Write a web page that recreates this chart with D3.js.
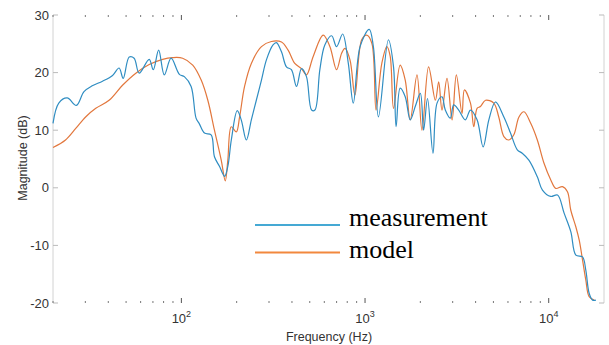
<!DOCTYPE html>
<html><head><meta charset="utf-8">
<script src="https://cdn.jsdelivr.net/npm/d3@7/dist/d3.min.js"></script>
<style>body{margin:0;background:#fff}svg{display:block}</style>
</head><body>
<svg id="c" width="609" height="345"></svg>
<script>
const measFreq=[20,21.5,23.9,26.8,29.5,32.7,37.2,42.2,45.8,48.2,52,55.3,58.9,66.8,70.3,75.2,80.7,87.9,97.5,103.8,113,120.2,125.3,133.6,145.2,151.4,161.4,171.8,179,187,201.4,211.8,225.9,240.4,255.9,272.9,290.4,315.5,328.9,350.8,373.3,397.2,423.6,450.8,479.7,511.7,533.3,567.5,604,657.7,699.8,755.1,810.8,863,939.7,1054,1110,1183,1340,1429,1476,1553,1655,1762,1876,2000,2084,2188,2344,2466,2624,2735,2912,3039,3236,3516,3750,4074,4395,4721,5129,5700,6194,6745,7178,7798,8670,9247,10250,11170,12130,13190,14060,15280,15920,16600,17340,18070];
const measDb=[11.2,14.7,15.6,14.3,16.7,17.7,18.5,19.5,20.8,19.0,22.7,22.5,19.9,22.3,20.5,23.9,19.6,22.5,19.7,19.3,17.6,12.1,11.1,9.5,9.2,5.4,3.7,2.0,3.7,8.3,13.4,11.8,8.3,11.8,15.2,18.7,22.2,24.8,25.2,23.6,21.0,20.5,17.6,20.7,19.3,13.5,13.5,20.5,24.8,26.4,24.5,26.7,21.6,14.7,24.5,27.5,24.5,12.3,25.7,21.0,10.6,17.3,15.8,11.8,14.1,16.4,10.0,15.5,6.0,14.7,15.8,13.5,12.1,14.4,13.5,11.8,13.5,11.8,7.1,11.8,14.9,12.3,9.5,6.6,6.0,4.8,1.9,-0.4,-1.5,-1.25,-4.4,-7.6,-11.7,-12.0,-14.3,-18.3,-19.5,-19.5];
const modelFreq=[20,23.4,26.6,30.1,34.2,40.4,47.8,56.5,66.8,79.1,89.6,101.6,115.3,128.2,139.3,151.4,164.8,173.4,179,187,199.1,207.5,220.8,240.4,272.9,309,350.8,381.2,414.4,450.8,479.7,522,591.6,644,699.8,746.4,778,828,881,959,1021,1089,1148,1234,1315,1371,1429,1553,1655,1762,1918,2042,2218,2415,2518,2624,2794,2978,3141,3373,3475,3750,3909,4074,4246,4529,5023,5346,5700,6067,6457,6887,7329,7980,8670,9419,10250,10920,11880,12650,13190,14060,14660,15280,15920,16600,17700];
const modelDb=[7.0,8.3,10.3,12.3,13.8,15.2,17.8,19.9,21.4,22.3,22.6,22.5,21.3,18.7,15.2,10.0,4.8,1.2,4.8,10.6,9.7,12.3,17.6,21.6,24.5,25.4,25.3,23.9,21.6,20.7,19.6,22.8,26.5,24.5,20.5,23.4,24.2,22.2,16.1,25.7,26.5,25.1,13.5,21.6,24.5,22.8,13.8,21.3,18.7,11.8,19.6,10.0,21.0,15.2,18.4,13.5,19.0,11.8,19.6,12.9,17.0,14.7,10.6,13.8,14.1,15.2,14.7,12.3,8.9,8.3,9.2,12.3,13.2,11.2,8.3,4.3,1.4,-0.1,0.2,-0.7,-3.9,-6.8,-9.1,-12.5,-16.0,-18.9,-19.5];
const yTicks=[30,20,10,0,-10,-20];
const xMajor=[100,1000,10000];
const xMajorExp=["2","3","4"];
const xMinor=[20,30,40,50,60,70,80,90,200,300,400,500,600,700,800,900,2000,3000,4000,5000,6000,7000,8000,9000];
const legendLabels=["measurement","model"];
const colors=["#2f8dc2","#e2773d"];
const legendColors=["#45a9d4","#f2883e"];

const svg=d3.select("#c");
const L=53,R=604,T=15,B=303;
const x=d3.scaleLog().domain([20,20000]).range([L,R]);
const y=d3.scaleLinear().domain([-20,30]).range([B,T]);
const sans="'Liberation Sans', Arial, sans-serif";

svg.append("line").attr("x1",L).attr("x2",L).attr("y1",T).attr("y2",B).attr("stroke","#d2d2d2");
svg.append("line").attr("x1",R).attr("x2",R).attr("y1",T).attr("y2",B).attr("stroke","#d2d2d2");

yTicks.forEach(v=>{
  svg.append("line").attr("x1",L).attr("x2",L+5).attr("y1",y(v)).attr("y2",y(v)).attr("stroke","#bbb");
  svg.append("line").attr("x1",R-5).attr("x2",R).attr("y1",y(v)).attr("y2",y(v)).attr("stroke","#bbb");
  svg.append("text").attr("x",L-4).attr("y",y(v)+4.5).attr("text-anchor","end")
    .attr("font-family",sans).attr("font-size",13).attr("fill","#333").text(v);
});
xMinor.forEach(v=>{
  [T,B].forEach((yy,i)=>{
    svg.append("line").attr("x1",x(v)).attr("x2",x(v)).attr("y1",yy).attr("y2",i?yy-2:yy+2).attr("stroke","#777");
  });
});
xMajor.forEach((v,i)=>{
  [T,B].forEach((yy,j)=>{
    svg.append("line").attr("x1",x(v)).attr("x2",x(v)).attr("y1",yy).attr("y2",j?yy-5:yy+5).attr("stroke","#555");
  });
  const t=svg.append("text").attr("x",x(v)).attr("y",323).attr("text-anchor","middle")
    .attr("font-family",sans).attr("font-size",13).attr("fill","#333");
  t.append("tspan").text("10");
  t.append("tspan").attr("dy",-6).attr("font-size",9).text(xMajorExp[i]);
});

svg.append("text").attr("x",329).attr("y",341).attr("text-anchor","middle")
  .attr("font-family",sans).attr("font-size",12.5).attr("fill","#333").text("Frequency (Hz)");
svg.append("text").attr("transform","translate(27,158) rotate(-90)").attr("text-anchor","middle")
  .attr("font-family",sans).attr("font-size",12.5).attr("fill","#333").text("Magnitude (dB)");

const line=d3.line().x(d=>x(d[0])).y(d=>y(d[1])).curve(d3.curveCatmullRom.alpha(0.5));
svg.append("path").datum(modelFreq.map((f,i)=>[f,modelDb[i]])).attr("d",line)
  .attr("fill","none").attr("stroke",colors[1]).attr("stroke-width",1.2);
svg.append("path").datum(measFreq.map((f,i)=>[f,measDb[i]])).attr("d",line)
  .attr("fill","none").attr("stroke",colors[0]).attr("stroke-width",1.2);

const ly=[225,252.5], ty=[226,258];
legendLabels.forEach((lab,i)=>{
  svg.append("line").attr("x1",255).attr("x2",340).attr("y1",ly[i]).attr("y2",ly[i])
    .attr("stroke",legendColors[i]).attr("stroke-width",2);
  svg.append("text").attr("x",349).attr("y",ty[i]).attr("font-family","'Liberation Serif','Times New Roman',serif")
    .attr("font-size",26).attr("fill","#000").text(lab);
});
</script>
</body></html>
